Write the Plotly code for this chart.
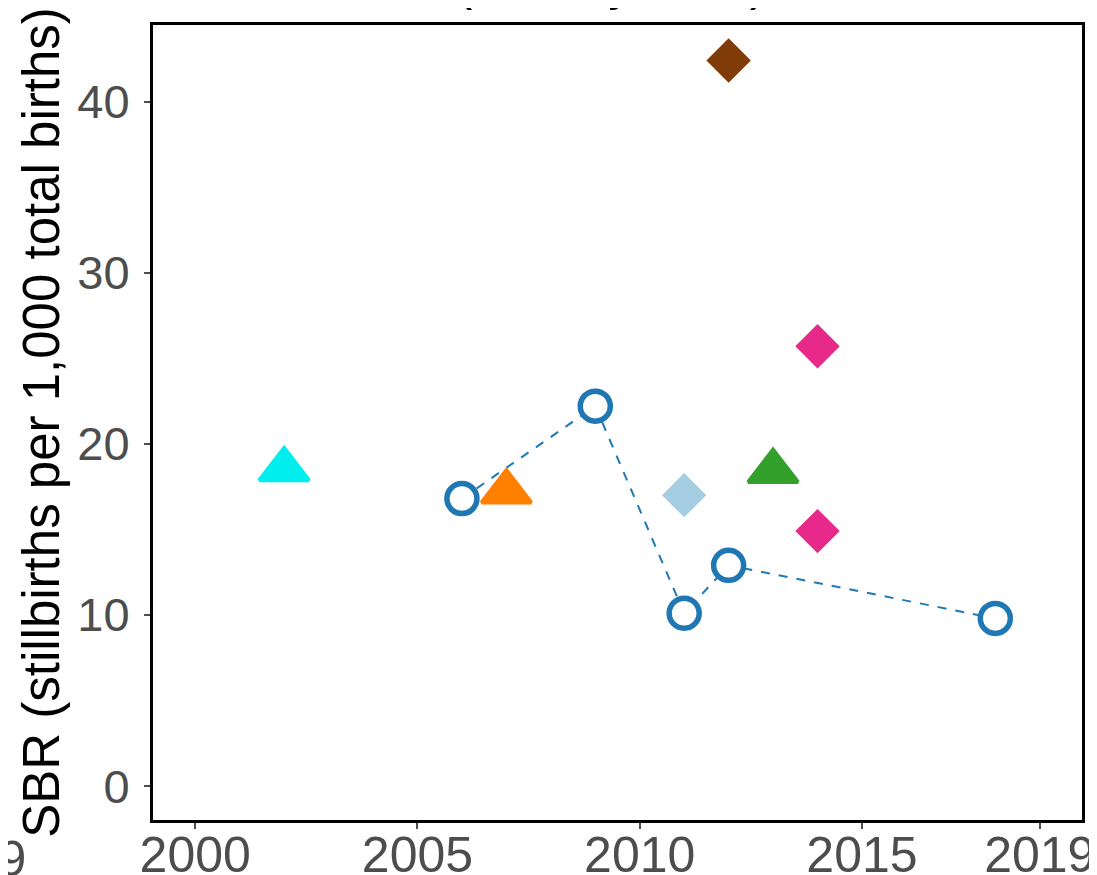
import plotly.graph_objects as go

# ---------------------------------------------------------------------------
# Data
# ---------------------------------------------------------------------------
survey_years = [2006, 2009, 2011, 2012, 2018]
survey_sbr = [16.8, 22.2, 10.1, 12.9, 9.8]

tri_years = [2002, 2007, 2013]
tri_sbr = [18.5, 17.2, 18.4]
tri_colors = ["#00eeee", "#ff7f00", "#33a02c"]

dia_years = [2011, 2012, 2014, 2014]
dia_sbr = [17.0, 42.4, 25.7, 14.9]
dia_colors = ["#a6cee3", "#7f3b08", "#e7298a", "#e7298a"]

x_ticks = [2000, 2005, 2010, 2015, 2019]
y_ticks = [0, 10, 20, 30, 40]

_FONT = "Liberation Sans, Arial, sans-serif"
_TICK = "#4d4d4d"
_BLUE = "#1f78b4"

fig = go.Figure()

fig.add_trace(go.Scatter(
    x=survey_years, y=survey_sbr,
    mode="lines+markers",
    line=dict(color=_BLUE, width=2, dash="dash"),
    marker=dict(symbol="circle", size=30, color="white",
                line=dict(color=_BLUE, width=5.5)),
    cliponaxis=False,
    showlegend=False,
))

fig.add_trace(go.Scatter(
    x=tri_years, y=tri_sbr,
    mode="markers",
    marker=dict(symbol="triangle-up", size=43, color=tri_colors,
                line=dict(color=tri_colors, width=4)),
    cliponaxis=False,
    showlegend=False,
))

fig.add_trace(go.Scatter(
    x=dia_years, y=dia_sbr,
    mode="markers",
    marker=dict(symbol="diamond", size=32, color=dia_colors,
                line=dict(color=dia_colors, width=2)),
    cliponaxis=False,
    showlegend=False,
))

# cut-off bits of the surrounding figure
fig.add_annotation(
    text="(Survey data)", xref="paper", yref="paper",
    x=0.493, y=1.0, yshift=13, xanchor="center", yanchor="bottom",
    showarrow=False, font=dict(family=_FONT, size=52, color="black"),
)
fig.add_annotation(
    text="2019", xref="paper", yref="paper",
    x=0, y=0, xshift=-125, yshift=-9, xanchor="right", yanchor="top",
    showarrow=False, font=dict(family=_FONT, size=50, color=_TICK),
)

fig.update_layout(
    width=1097, height=875,
    template=None,
    plot_bgcolor="white",
    paper_bgcolor="white",
    margin=dict(l=145, r=23, t=17, b=63),
    font=dict(family=_FONT, color="black"),
)

fig.update_xaxes(
    range=[1999.05, 2019.95],
    tickvals=x_ticks,
    ticktext=[str(v) for v in x_ticks],
    showgrid=False, zeroline=False,
    showline=True, linecolor="black", linewidth=3, mirror=True,
    ticks="outside", ticklen=6, tickwidth=1.5, tickcolor=_TICK,
    ticklabelstandoff=-17,
    tickfont=dict(family=_FONT, size=50, color=_TICK),
)
fig.update_yaxes(
    range=[-1.98, 44.47],
    tickvals=y_ticks,
    showgrid=False, zeroline=False,
    showline=True, linecolor="black", linewidth=3, mirror=True,
    ticks="outside", ticklen=6, tickwidth=1.5, tickcolor=_TICK,
    ticklabelstandoff=5,
    tickfont=dict(family=_FONT, size=47, color=_TICK),
    title=dict(text="SBR (stillbirths per 1,000 total births)",
               font=dict(family=_FONT, size=51, color="black"),
               standoff=2),
)

fig.write_html("out.html")
